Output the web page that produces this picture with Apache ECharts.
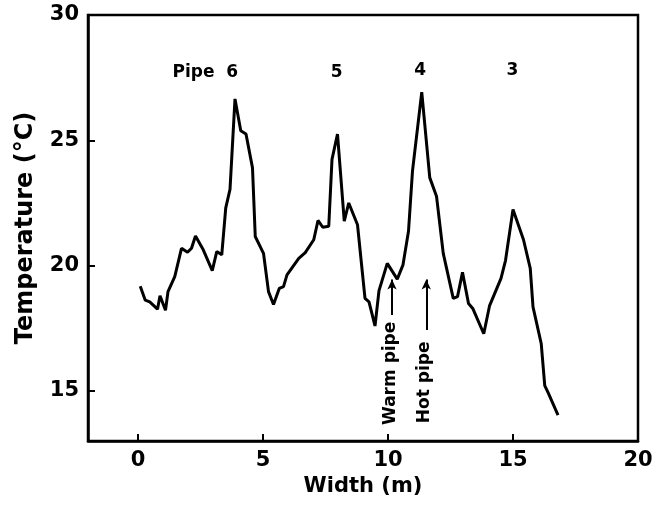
<!DOCTYPE html>
<html>
<head>
<meta charset="utf-8">
<script src="https://cdn.jsdelivr.net/npm/echarts@6/dist/echarts.min.js"></script>
<style>html,body{margin:0;padding:0;background:#fff;}#c{width:656px;height:511px;}</style>
</head>
<body>
<div id="c"></div>
<script>
var widthM = [0.09,0.29,0.47,0.78,0.88,1.10,1.20,1.47,1.74,1.98,2.14,2.30,2.61,2.97,3.15,3.35,3.51,3.68,3.88,4.11,4.32,4.58,4.69,5.02,5.22,5.42,5.65,5.82,5.96,6.43,6.69,7.03,7.20,7.39,7.63,7.76,7.98,8.25,8.43,8.78,9.08,9.24,9.48,9.64,9.97,10.37,10.60,10.82,10.98,11.35,11.67,11.94,12.21,12.61,12.78,12.98,13.22,13.39,13.83,14.06,14.52,14.70,15.00,15.42,15.69,15.80,16.13,16.27,16.40,16.80];
var tempC = [19.18,18.62,18.55,18.26,18.80,18.22,18.96,19.56,20.69,20.53,20.69,21.18,20.63,19.80,20.56,20.43,22.30,23.04,26.65,25.38,25.25,23.90,21.16,20.49,18.96,18.45,19.09,19.16,19.63,20.29,20.52,21.03,21.80,21.53,21.57,24.24,25.25,21.77,22.50,21.63,18.69,18.55,17.59,19.00,20.09,19.46,20.03,21.37,23.78,26.92,23.51,22.77,20.49,18.69,18.76,19.73,18.49,18.29,17.28,18.39,19.49,20.20,22.24,21.03,19.89,18.35,16.88,15.21,14.94,14.03];
var xTicks = [0,5,10,15,20];
var yTicks = [15,20,25,30];
var pipeNames = ['Pipe  6','5','4','3'];
var pipeX = [2.69,7.95,11.29,14.98];
var pipeY = [27.7,27.7,27.8,27.8];
var arrowNames = ['Warm pipe','Hot pipe'];
var arrowX = [10.16,11.53];
var arrowTipY = [19.44,19.44];
var arrowBaseY = [18.03,17.43];
var arrowTextX = [10.12,11.45];
var arrowTextY = [15.70,15.34];

var FONT = 'DejaVu Sans';
var chart = echarts.init(document.getElementById('c'));
var lineData = widthM.map(function(x,i){return [x,tempC[i]];});
var labelStyle = function(rot){
  return {show:true,position:'inside',rotate:rot,formatter:'{b}',fontFamily:FONT,fontWeight:'bold',
    fontSize:17,color:'#000',textBorderWidth:0,textShadowBlur:0,opacity:1};
};
var pipeData = pipeNames.map(function(n,i){return {name:n, value:[pipeX[i],pipeY[i]]};});
var arrowTextData = arrowNames.map(function(n,i){return {name:n, value:[arrowTextX[i],arrowTextY[i]]};});
var arrowLines = arrowNames.map(function(n,i){return [{coord:[arrowX[i],arrowBaseY[i]]},{coord:[arrowX[i],arrowTipY[i]]}];});

chart.setOption({
  animation:false,
  backgroundColor:'#fff',
  grid:{left:88,right:18,top:15,bottom:70,show:true,borderColor:'#000',borderWidth:2.5,containLabel:false},
  xAxis:{type:'value',min:-2,max:20,
    name:'Width (m)',nameLocation:'middle',nameGap:34,
    nameTextStyle:{fontFamily:FONT,fontWeight:'bold',fontSize:21,color:'#000'},
    axisLine:{show:true,onZero:false,lineStyle:{color:'#000',width:2.5}},
    axisTick:{show:true,inside:true,length:7,lineStyle:{color:'#000',width:2},customValues:[0,5,10,15]},
    axisLabel:{customValues:xTicks,fontFamily:FONT,fontWeight:'bold',fontSize:21,color:'#000',margin:9},
    splitLine:{show:false}},
  yAxis:{type:'value',min:13,max:30,
    name:'Temperature (°C)',nameLocation:'middle',nameGap:50,nameRotate:90,
    nameTextStyle:{fontFamily:FONT,fontWeight:'bold',fontSize:24,color:'#000'},
    axisLine:{show:true,onZero:false,lineStyle:{color:'#000',width:2.5}},
    axisTick:{show:true,inside:true,length:7,lineStyle:{color:'#000',width:2},customValues:[15,20,25]},
    axisLabel:{customValues:yTicks,fontFamily:FONT,fontWeight:'bold',fontSize:21,color:'#000',margin:9},
    splitLine:{show:false}},
  series:[
    {type:'line',data:lineData,symbol:'none',lineStyle:{color:'#000',width:3},z:3,
     markLine:{silent:true,symbol:['none','arrow'],symbolSize:[7,10],
       lineStyle:{color:'#000',width:2,type:'solid'},label:{show:false},data:arrowLines}},
    {type:'scatter',data:pipeData,symbolSize:1,itemStyle:{color:'#fff',opacity:0},label:labelStyle(0)},
    {type:'scatter',data:arrowTextData,symbolSize:1,itemStyle:{color:'#fff',opacity:0},label:labelStyle(90)}
  ]
});
</script>
</body>
</html>
